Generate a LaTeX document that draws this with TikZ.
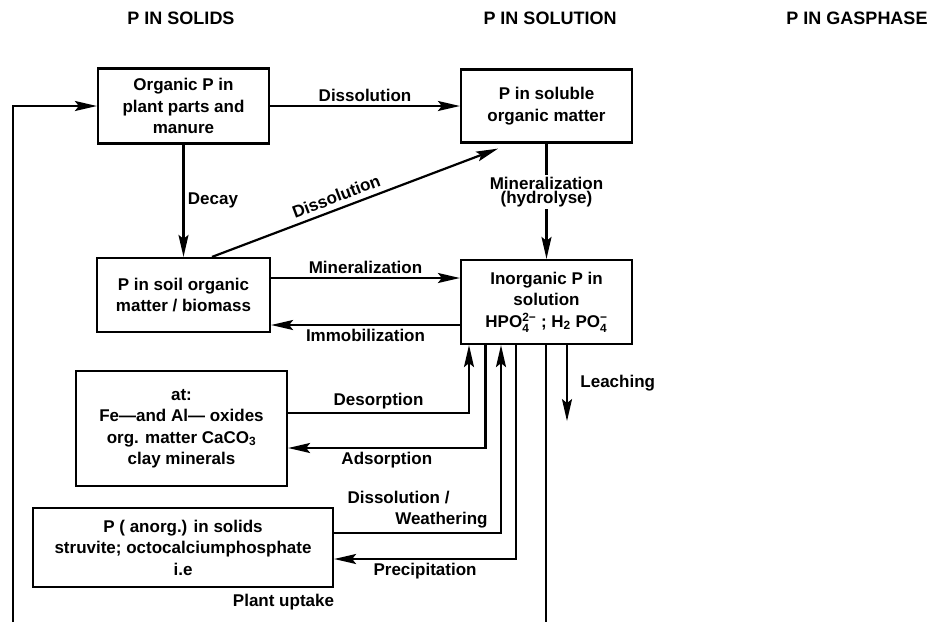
\documentclass[tikz,border=0pt]{standalone}
\usepackage{amsmath}
\usepackage{fontspec}
\setmainfont{Liberation Sans}
\usepackage{tikz}
\usetikzlibrary{
    arrows.meta,
    calc,
    positioning,
}
\newcommand{\ionsc}[2]{$^{\text{#2}}_{\text{#1}}$}
\tikzset{
    pbox/.style={draw, line width=2.2pt, align=center, inner sep=0pt},
    flow/.style={line width=2.2pt, -{Stealth[length=22pt, width=10pt, inset=4pt]}},
    plain/.style={line width=2.2pt},
    head/.style={font=\fontsize{18}{22}\selectfont\bfseries},
}

\begin{document}
\begin{tikzpicture}[x=1pt, y=-1pt, font=\fontsize{17}{21.5}\selectfont\bfseries]
        \useasboundingbox (0,0) rectangle (929,622);

        \node[head] (hSolids) at (181,18) {P IN SOLIDS};
        \node[head] (hSolution) at (550,18) {P IN SOLUTION};
        \node[head] (hGas) at (857,18) {P IN GASPHASE};

        \node[pbox, minimum width=171pt, minimum height=75pt] (orgP) at (183.5,106) {Organic P in\\plant parts and\\manure};
        \node[pbox, minimum width=171pt, minimum height=73pt] (solP) at (546.5,106) {P in soluble\\organic matter};
        \node[pbox, minimum width=173pt, minimum height=74pt] (soilP) at (183.5,295) {P in soil organic\\matter / biomass};
        \node[pbox, minimum width=171pt, minimum height=84pt] (inorgP) at (546.5,302) {Inorganic P in\\solution\\HPO\ionsc{4}{2−} ; H\textsubscript{2} PO\ionsc{4}{−}};
        \node[pbox, minimum width=211pt, minimum height=115pt] (adsP) at (181.5,428.5) {at:\\Fe—and Al— oxides\\org. matter CaCO\textsubscript{3}\\clay minerals};
        \node[pbox, minimum width=300pt, minimum height=79pt] (minP) at (183,547.5) {P ( anorg.) in solids\\struvite; octocalciumphosphate\\i.e};

        \coordinate (loopB) at (13,622);
        \coordinate (uptB) at (546,622);

        \draw[flow] (loopB) |- (orgP.west);
        \draw[flow] (orgP.east) -- (solP.west) node[midway, above] {Dissolution};
        \draw[flow] (orgP.south) -- (soilP.north) node[midway, right] {Decay};
        \draw[flow] ($(soilP.north)+(28.5,0)$) -- ($(solP.south)+(-48.5,5)$) node[pos=0.45, above=2pt, sloped] {Dissolution};
        \draw[flow] (solP.south) -- (inorgP.north) node[pos=0.42, fill=white, inner sep=2pt, align=center, font=\fontsize{17}{14}\selectfont\bfseries] {Mineralization\\(hydrolyse)};

        \draw[flow] ([yshift=17pt]soilP.east) -- ([yshift=24pt]inorgP.west) node[midway, above] {Mineralization};
        \draw[flow] ([yshift=-23pt]inorgP.west) -- ([yshift=-30pt]soilP.east) node[midway, below] {Immobilization};

        \draw[flow] ([yshift=15.5pt]adsP.east) -| ([xshift=-77.5pt]inorgP.south) node[pos=0.25, above] {Desorption};
        \draw[flow] ([xshift=-61pt]inorgP.south) |- ([yshift=-19.5pt]adsP.east) node[pos=0.75, below] {Adsorption};
        \draw[flow] ([yshift=14.5pt]minP.east) -| ([xshift=-45.5pt]inorgP.south) node[pos=0.25, above, align=right] {Dissolution /\hspace*{38pt}\\Weathering};
        \draw[flow] ([xshift=-30.5pt]inorgP.south) |- ([yshift=-11.5pt]minP.east) node[pos=0.75, below] {Precipitation};

        \draw[plain] (inorgP.south -| uptB) -- (uptB);
        \path (loopB) -- (uptB) node[midway, above=8pt, xshift=4pt] {Plant uptake};
        \draw[flow] ([xshift=20.5pt]inorgP.south) -- ++(0,76) node[midway, right=9pt] {Leaching};
    \end{tikzpicture}
\end{document}
